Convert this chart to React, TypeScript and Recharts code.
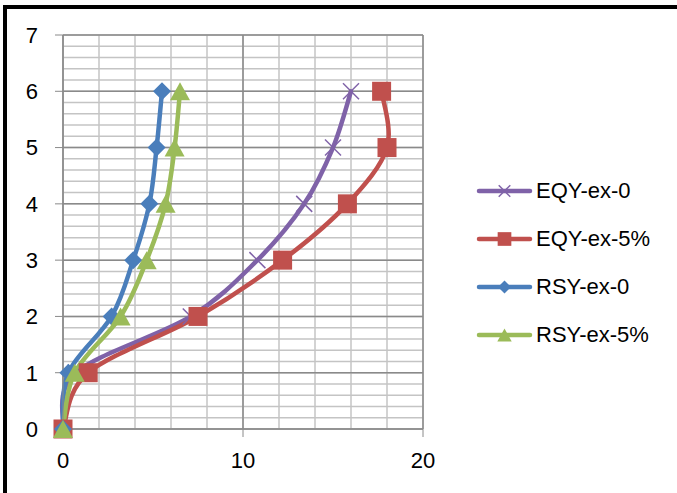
import React from 'react';
import { ComposedChart, Line, XAxis, YAxis, CartesianGrid } from 'recharts';

// storey levels and drift values per series
const levels = [0, 1, 2, 3, 4, 5, 6];
const eqyEx0 = [0, 0.7, 7.1, 10.8, 13.4, 15, 16];
const eqyEx5 = [0, 1.4, 7.5, 12.2, 15.8, 18, 17.7];
const rsyEx0 = [0, 0.3, 2.7, 3.9, 4.8, 5.2, 5.5];
const rsyEx5 = [0, 0.65, 3.2, 4.65, 5.7, 6.2, 6.5];

const xTicks = [0, 10, 20];
const yTicks = [0, 1, 2, 3, 4, 5, 6, 7];
const xMinorTicks = [0, 2, 4, 6, 8, 10, 12, 14, 16, 18, 20];
const yMinorTicks = Array.from({ length: 36 }, (_, i) => Math.round(i * 2) / 10);

const series = [
  { key: 'eqy0', name: 'EQY-ex-0', color: '#7F62A8', marker: 'x' },
  { key: 'eqy5', name: 'EQY-ex-5%', color: '#C0504D', marker: 'square' },
  { key: 'rsy0', name: 'RSY-ex-0', color: '#4A7EBB', marker: 'diamond' },
  { key: 'rsy5', name: 'RSY-ex-5%', color: '#9BBB59', marker: 'triangle' },
];

const data = levels.map((level, i) => ({
  level,
  eqy0: eqyEx0[i],
  eqy5: eqyEx5[i],
  rsy0: rsyEx0[i],
  rsy5: rsyEx5[i],
}));

const FONT = '"Liberation Sans", Arial, sans-serif';
const MAJOR = '#8A8A8A';
const MINOR = '#C4C4C4';

// Catmull-Rom style smoothing, similar to spreadsheet "smoothed line"
const smoothCurve = (context: any) => {
  let pts: number[][] = [];
  return {
    areaStart() {},
    areaEnd() {},
    lineStart() {
      pts = [];
    },
    point(x: number, y: number) {
      pts.push([+x, +y]);
    },
    lineEnd() {
      if (!pts.length) return;
      context.moveTo(pts[0][0], pts[0][1]);
      const t = 1 / 6;
      for (let i = 0; i < pts.length - 1; i++) {
        const p0 = pts[Math.max(i - 1, 0)];
        const p1 = pts[i];
        const p2 = pts[i + 1];
        const p3 = pts[Math.min(i + 2, pts.length - 1)];
        context.bezierCurveTo(
          p1[0] + (p2[0] - p0[0]) * t,
          p1[1] + (p2[1] - p0[1]) * t,
          p2[0] - (p3[0] - p1[0]) * t,
          p2[1] - (p3[1] - p1[1]) * t,
          p2[0],
          p2[1]
        );
      }
    },
  };
};

function Marker({ kind, cx, cy, color, scale = 1 }: any) {
  if (cx == null || cy == null) return null;
  if (kind === 'x') {
    const s = 8 * scale;
    return (
      <g stroke={color} strokeWidth={1.5}>
        <line x1={cx - s} y1={cy - s} x2={cx + s} y2={cy + s} />
        <line x1={cx - s} y1={cy + s} x2={cx + s} y2={cy - s} />
      </g>
    );
  }
  if (kind === 'square') {
    const s = 9.5 * scale;
    return <rect x={cx - s} y={cy - s} width={s * 2} height={s * 2} fill={color} />;
  }
  if (kind === 'diamond') {
    const s = 9 * scale;
    return <polygon points={`${cx},${cy - s} ${cx + s},${cy} ${cx},${cy + s} ${cx - s},${cy}`} fill={color} />;
  }
  const w = 10 * scale;
  const h = 9 * scale;
  return <polygon points={`${cx},${cy - h} ${cx + w},${cy + h} ${cx - w},${cy + h}`} fill={color} />;
}

function LegendBox() {
  return (
    <div style={{ position: 'absolute', left: 476, top: 167, fontFamily: FONT, fontSize: 22, color: '#000' }}>
      {series.map((s) => (
        <div key={s.key} style={{ display: 'flex', alignItems: 'center', height: 48 }}>
          <svg width={58} height={26} style={{ display: 'block' }}>
            <line x1={3} y1={13} x2={54} y2={13} stroke={s.color} strokeWidth={4.5} strokeLinecap="round" />
            <Marker kind={s.marker} cx={28.5} cy={13} color={s.color} scale={0.72} />
          </svg>
          <span style={{ marginLeft: 2, lineHeight: '26px' }}>{s.name}</span>
        </div>
      ))}
    </div>
  );
}

export default function App() {
  return (
    <div style={{ position: 'absolute', left: 0, top: 0, width: 677, height: 493, overflow: 'hidden', background: '#fff' }}>
      <div
        style={{
          position: 'absolute',
          left: 3,
          top: 5,
          width: 760,
          height: 600,
          border: '4.5px solid #000',
          boxSizing: 'border-box',
        }}
      />
      <ComposedChart
        width={677}
        height={493}
        data={data}
        layout="vertical"
        margin={{ top: 35, right: 254, left: 33, bottom: 34 }}
        style={{ position: 'absolute', left: 0, top: 0 }}
      >
        {/* minor grid first, major grid drawn over it */}
        <CartesianGrid
          stroke={MINOR}
          strokeWidth={1.5}
          horizontalValues={yMinorTicks}
          verticalValues={xMinorTicks}
        />
        <CartesianGrid stroke={MAJOR} strokeWidth={1.5} />
        <XAxis
          type="number"
          domain={[0, 20]}
          ticks={xTicks}
          interval={0}
          height={30}
          stroke={MAJOR}
          tickSize={8}
          tickMargin={15}
          tick={{ fill: '#000', fontSize: 22, fontFamily: FONT }}
        />
        <YAxis
          type="number"
          dataKey="level"
          domain={[0, 7]}
          ticks={yTicks}
          interval={0}
          reversed
          width={30}
          stroke={MAJOR}
          tickSize={8}
          tickMargin={17}
          tick={{ fill: '#000', fontSize: 22, fontFamily: FONT }}
        />
        {series.map((s) => (
          <Line
            key={s.key}
            dataKey={s.key}
            name={s.name}
            type={smoothCurve as any}
            stroke={s.color}
            strokeWidth={4.5}
            strokeLinecap="round"
            strokeLinejoin="round"
            isAnimationActive={false}
            activeDot={false}
            dot={(p: any) => <Marker key={`${s.key}-${p.index}`} kind={s.marker} cx={p.cx} cy={p.cy} color={s.color} />}
          />
        ))}
      </ComposedChart>
      <LegendBox />
    </div>
  );
}
